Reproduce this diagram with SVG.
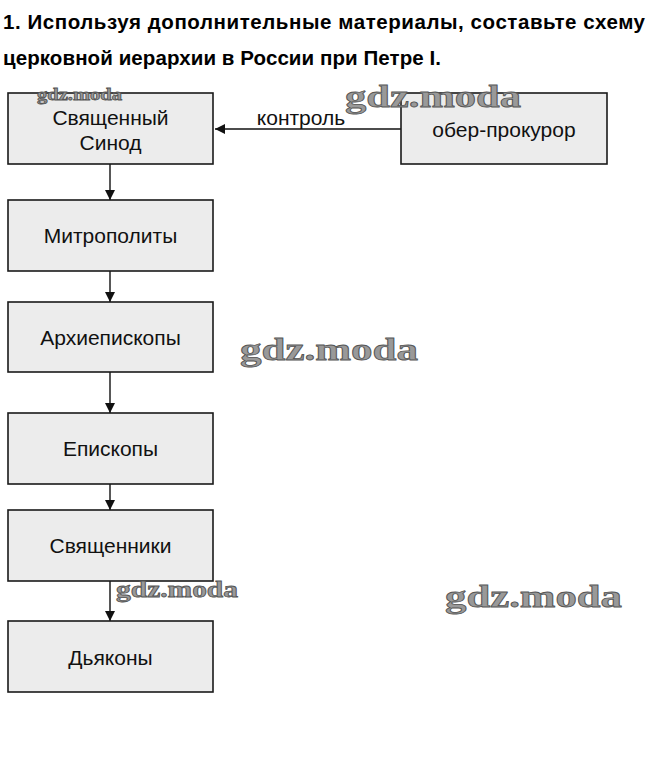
<svg xmlns="http://www.w3.org/2000/svg" width="656" height="757" viewBox="0 0 656 757">
<defs>
<marker id="ah" markerWidth="10" markerHeight="10" refX="10" refY="5" orient="auto" markerUnits="userSpaceOnUse">
<path d="M0,0 L10,5 L0,10 Z" fill="#111"/>
</marker>
<style>
.box{fill:#ececec;stroke:#1a1a1a;stroke-width:1.6}
.lbl{font-family:"Liberation Sans",Arial,sans-serif;font-size:21px;fill:#111;text-anchor:middle}
.title{font-family:"Liberation Sans",Arial,sans-serif;font-size:20.5px;font-weight:bold;fill:#000}
.con{stroke:#111;stroke-width:1.4;fill:none;marker-end:url(#ah)}
.wm{font-family:"Liberation Serif","Times New Roman",serif;font-weight:bold;fill:#999;stroke:#555;stroke-width:0.8}
</style>
</defs>
<rect width="656" height="757" fill="#fff"/>
<g id="title">
<text class="title" x="3" y="29" textLength="642" lengthAdjust="spacing">1. Используя дополнительные материалы, составьте схему</text>
<text class="title" x="3" y="65" textLength="438" lengthAdjust="spacing">церковной иерархии в России при Петре I.</text>
</g>
<g id="connectors">
<line class="con" x1="401" y1="129" x2="215" y2="129"/>
<text class="lbl" x="301" y="125">контроль</text>
<line class="con" x1="110" y1="164" x2="110" y2="200"/>
<line class="con" x1="110" y1="271" x2="110" y2="302"/>
<line class="con" x1="110" y1="372" x2="110" y2="413"/>
<line class="con" x1="110" y1="484" x2="110" y2="510"/>
<line class="con" x1="110" y1="581" x2="110" y2="621"/>
</g>
<g id="synod">
<rect class="box" x="8" y="93" width="205" height="71"/>
<text class="lbl" x="110.5" y="125">Священный</text>
<text class="lbl" x="110.5" y="150">Синод</text>
</g>
<g id="ober">
<rect class="box" x="401" y="93" width="206" height="71"/>
<text class="lbl" x="504" y="137">обер-прокурор</text>
</g>
<g id="metropolity">
<rect class="box" x="8" y="200" width="205" height="71"/>
<text class="lbl" x="110.5" y="243">Митрополиты</text>
</g>
<g id="arkhiepiskopy">
<rect class="box" x="8" y="302" width="205" height="70"/>
<text class="lbl" x="110.5" y="345">Архиепископы</text>
</g>
<g id="episkopy">
<rect class="box" x="8" y="413" width="205" height="71"/>
<text class="lbl" x="110.5" y="456">Епископы</text>
</g>
<g id="svyashchenniki">
<rect class="box" x="8" y="510" width="205" height="71"/>
<text class="lbl" x="110.5" y="553">Священники</text>
</g>
<g id="dyakony">
<rect class="box" x="8" y="621" width="205" height="71"/>
<text class="lbl" x="110.5" y="665">Дьяконы</text>
</g>
<g id="watermarks">
<text class="wm" x="37" y="100" font-size="17" textLength="85" lengthAdjust="spacingAndGlyphs" stroke-width="0.4">gdz.moda</text>
<text class="wm" x="345" y="107" font-size="32" textLength="176" lengthAdjust="spacingAndGlyphs">gdz.moda</text>
<text class="wm" x="240" y="360" font-size="32" textLength="178" lengthAdjust="spacingAndGlyphs">gdz.moda</text>
<text class="wm" x="116" y="597" font-size="23" textLength="122" lengthAdjust="spacingAndGlyphs" stroke-width="0.6">gdz.moda</text>
<text class="wm" x="445" y="607" font-size="32" textLength="177" lengthAdjust="spacingAndGlyphs">gdz.moda</text>
</g>
</svg>
